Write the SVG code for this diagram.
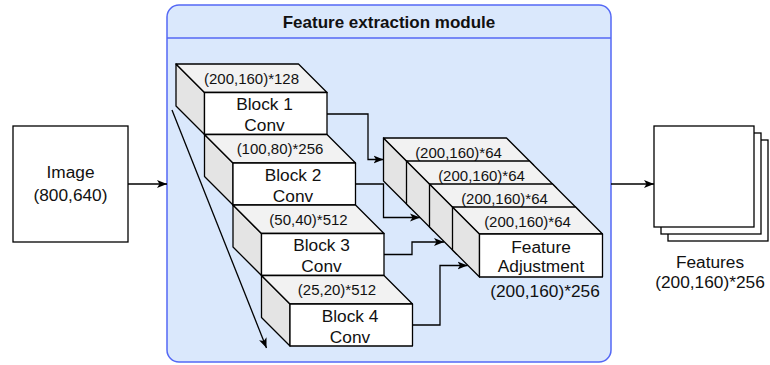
<svg xmlns="http://www.w3.org/2000/svg" width="770" height="365" viewBox="0 0 770 365">
  <defs>
    <style>
      text { font-family: "Liberation Sans", Arial, sans-serif; fill: #111; text-anchor: middle; }
      .big { font-size: 17.3px; }
      .small { font-size: 15px; }
      .title { font-size: 17px; font-weight: bold; }
      .box { fill: #fff; stroke: #000; stroke-width: 1.3; }
      .front { fill: #fff; stroke: #000; stroke-width: 1.3; stroke-linejoin: round; }
      .top { fill: #f2f2f2; stroke: #000; stroke-width: 1.3; stroke-linejoin: round; }
      .side { fill: #e4e4e4; stroke: #000; stroke-width: 1.3; stroke-linejoin: round; }
      .edge { fill: none; stroke: #000; stroke-width: 1.3; marker-end: url(#arrow); }
    </style>
    <marker id="arrow" viewBox="0 0 10 10" refX="10" refY="5" markerWidth="10" markerHeight="10" markerUnits="userSpaceOnUse" orient="auto">
      <path d="M0,1 L10,5 L0,9 L2.5,5 Z" fill="#000"/>
    </marker>
  </defs>

  <!-- input image -->
  <g id="image">
    <rect class="box" x="13" y="126" width="115" height="116"/>
    <text class="big" x="70.5" y="178">Image</text>
    <text class="big" x="70.5" y="201">(800,640)</text>
  </g>

  <!-- container module -->
  <g id="module">
    <rect x="167" y="5" width="444" height="357" rx="12" ry="12" fill="#dae8fc" stroke="#5468f5" stroke-width="1.5"/>
    <line x1="167" y1="38" x2="611" y2="38" stroke="#5468f5" stroke-width="1.5"/>
    <text class="title" x="389" y="28">Feature extraction module</text>
  </g>

  <!-- conv blocks: cube x, y, w=151, h=70.5, depth=28.5 -->
  <g id="block1">
    <polygon class="side" points="176,64 204.5,92.5 204.5,134.5 176,106"/>
    <polygon class="top" points="176,64 298.5,64 327,92.5 204.5,92.5"/>
    <rect class="front" x="204.5" y="92.5" width="122.5" height="42"/>
    <text class="small" x="251.5" y="83.5">(200,160)*128</text>
    <text class="big" x="264.5" y="110">Block 1</text>
    <text class="big" x="264.5" y="131">Conv</text>
  </g>
  <g id="block2">
    <polygon class="side" points="204.5,134.5 233,163 233,205 204.5,176.5"/>
    <polygon class="top" points="204.5,134.5 327,134.5 355.5,163 233,163"/>
    <rect class="front" x="233" y="163" width="122.5" height="42"/>
    <text class="small" x="280" y="154">(100,80)*256</text>
    <text class="big" x="293" y="180.5">Block 2</text>
    <text class="big" x="293" y="201.5">Conv</text>
  </g>
  <g id="block3">
    <polygon class="side" points="233,205 261.5,233.5 261.5,275.5 233,247"/>
    <polygon class="top" points="233,205 355.5,205 384,233.5 261.5,233.5"/>
    <rect class="front" x="261.5" y="233.5" width="122.5" height="42"/>
    <text class="small" x="308.5" y="224.5">(50,40)*512</text>
    <text class="big" x="321.5" y="251">Block 3</text>
    <text class="big" x="321.5" y="272">Conv</text>
  </g>
  <g id="block4">
    <polygon class="side" points="261.5,275.5 290,304 290,346 261.5,317.5"/>
    <polygon class="top" points="261.5,275.5 384,275.5 412.5,304 290,304"/>
    <rect class="front" x="290" y="304" width="122.5" height="42"/>
    <text class="small" x="337" y="295">(25,20)*512</text>
    <text class="big" x="350" y="321.5">Block 4</text>
    <text class="big" x="350" y="342.5">Conv</text>
  </g>

  <!-- feature adjustment stack: cube x, y, w=150, h=70, depth=27 -->
  <g id="adjust1">
    <polygon class="side" points="383.5,138 410.5,165 410.5,208 383.5,181"/>
    <polygon class="top" points="383.5,138 506.5,138 533.5,165 410.5,165"/>
    <rect class="front" x="410.5" y="165" width="123" height="43"/>
    <text class="small" x="458.5" y="157.5">(200,160)*64</text>
  </g>
  <g id="adjust2">
    <polygon class="side" points="406.5,161 433.5,188 433.5,231 406.5,204"/>
    <polygon class="top" points="406.5,161 529.5,161 556.5,188 433.5,188"/>
    <rect class="front" x="433.5" y="188" width="123" height="43"/>
    <text class="small" x="481.5" y="180.5">(200,160)*64</text>
  </g>
  <g id="adjust3">
    <polygon class="side" points="429.5,184 456.5,211 456.5,254 429.5,227"/>
    <polygon class="top" points="429.5,184 552.5,184 579.5,211 456.5,211"/>
    <rect class="front" x="456.5" y="211" width="123" height="43"/>
    <text class="small" x="504.5" y="203.5">(200,160)*64</text>
  </g>
  <g id="adjust4">
    <polygon class="side" points="452.5,207 479.5,234 479.5,277 452.5,250"/>
    <polygon class="top" points="452.5,207 575.5,207 602.5,234 479.5,234"/>
    <rect class="front" x="479.5" y="234" width="123" height="43"/>
    <text class="small" x="527.5" y="226.5">(200,160)*64</text>
    <text class="big" x="541" y="252.5">Feature</text>
    <text class="big" x="541" y="271.5">Adjustment</text>
    <text class="big" x="545" y="297">(200,160)*256</text>
  </g>

  <!-- output feature maps -->
  <g id="features">
    <rect class="box" x="668" y="140" width="100" height="101"/>
    <rect class="box" x="661" y="133" width="100" height="101"/>
    <rect class="box" x="654" y="126" width="100" height="101"/>
    <text class="big" x="710" y="268">Features</text>
    <text class="big" x="710" y="288">(200,160)*256</text>
  </g>

  <!-- connectors -->
  <g id="connectors">
    <path class="edge" d="M128,184 H167"/>
    <path class="edge" d="M611,184 H654"/>
    <path class="edge" d="M327,114 H368 V159.5 H383.5"/>
    <path class="edge" d="M355.5,184 H383.5 V217.5 H420"/>
    <path class="edge" d="M384,254.5 H412 V242 H444"/>
    <path class="edge" d="M412.5,325 H440 V265.5 H467.5"/>
    <path class="edge" d="M172,110 L266.5,348"/>
  </g>
</svg>
